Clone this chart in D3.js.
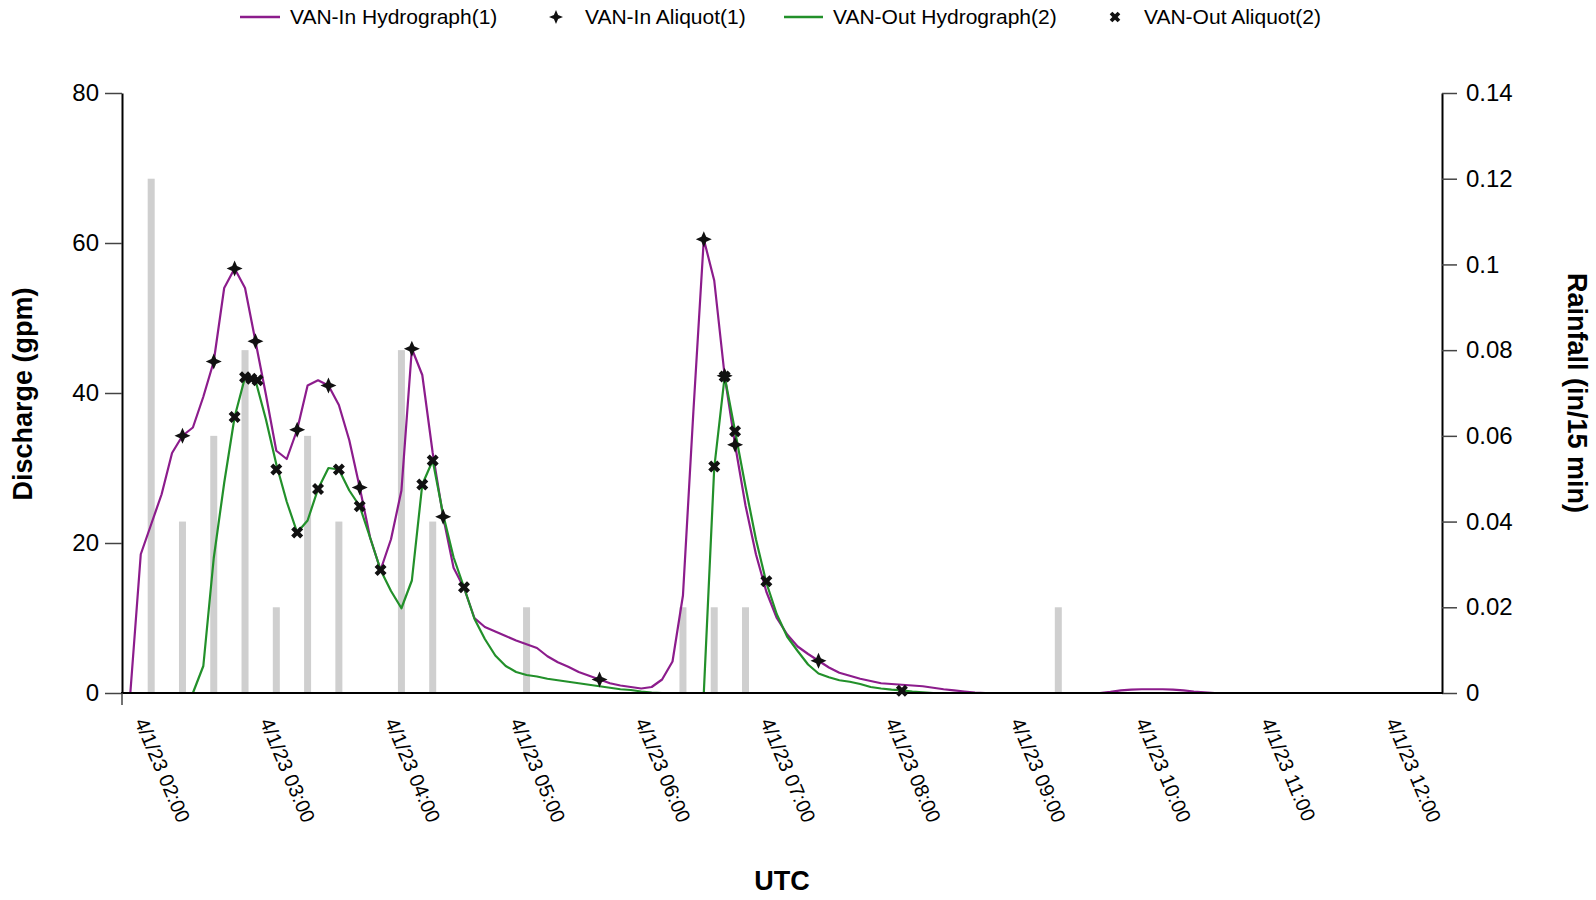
<!DOCTYPE html>
<html>
<head>
<meta charset="utf-8">
<script src="https://cdn.jsdelivr.net/npm/d3@7"></script>
<style>
    body { margin: 0; background: #fff; }
    svg { display: block; font-family: "Liberation Sans", Arial, sans-serif; }
</style>
</head>
<body>
<div id="chart"></div>
<script>
// rainfall per 15 min (in)
const rainTimes = ["02:05", "02:20", "02:35", "02:50", "03:05", "03:20", "03:35", "04:05", "04:20", "05:05", "06:20", "06:35", "06:50", "09:20"];
const rainValues = [0.12, 0.04, 0.06, 0.08, 0.02, 0.06, 0.04, 0.08, 0.04, 0.02, 0.02, 0.02, 0.02, 0.02];

// VAN-In hydrograph (gpm)
const vanInHydrograph = [
    ["01:55", 0], ["02:00", 18.5], ["02:05", 22.5], ["02:10", 26.5], ["02:15", 32], ["02:20", 34.3],
    ["02:25", 35.4], ["02:30", 39.5], ["02:35", 44.2], ["02:40", 54], ["02:45", 56.6], ["02:50", 54],
    ["02:55", 46.9], ["03:00", 39.8], ["03:05", 32.3], ["03:10", 31.2], ["03:15", 35.1], ["03:20", 41],
    ["03:25", 41.7], ["03:30", 41], ["03:35", 38.4], ["03:40", 33.7], ["03:45", 27.4], ["03:50", 20.7],
    ["03:55", 16.4], ["04:00", 20.5], ["04:05", 27], ["04:10", 45.9], ["04:15", 42.4], ["04:20", 32],
    ["04:25", 23.5], ["04:30", 16.7], ["04:35", 14], ["04:40", 10], ["04:45", 8.8], ["04:50", 8.2],
    ["04:55", 7.6], ["05:00", 7], ["05:05", 6.5], ["05:10", 6], ["05:15", 4.9], ["05:20", 4.1],
    ["05:25", 3.5], ["05:30", 2.8], ["05:35", 2.3], ["05:40", 1.8], ["05:45", 1.3], ["05:50", 1.0],
    ["05:55", 0.8], ["06:00", 0.6], ["06:05", 0.8], ["06:10", 1.8], ["06:15", 4.2], ["06:20", 13],
    ["06:25", 37.5], ["06:30", 60.5], ["06:35", 55], ["06:40", 42.3], ["06:45", 33.1], ["06:50", 25],
    ["06:55", 18.5], ["07:00", 13.5], ["07:05", 10], ["07:10", 7.8], ["07:15", 6.2], ["07:20", 5.2],
    ["07:25", 4.3], ["07:30", 3.4], ["07:35", 2.7], ["07:40", 2.3], ["07:45", 1.9], ["07:50", 1.6],
    ["07:55", 1.3], ["08:00", 1.2], ["08:05", 1.1], ["08:10", 1.0], ["08:15", 0.9], ["08:20", 0.7],
    ["08:25", 0.5], ["08:30", 0.35], ["08:35", 0.2], ["08:40", 0.05], ["08:45", 0], ["09:40", 0],
    ["09:45", 0.15], ["09:50", 0.35], ["09:55", 0.45], ["10:00", 0.5], ["10:05", 0.5], ["10:10", 0.5],
    ["10:15", 0.45], ["10:20", 0.35], ["10:25", 0.2], ["10:30", 0.1], ["10:35", 0], ["12:20", 0]
];

// VAN-Out hydrograph (gpm)
const vanOutHydrograph = [
    ["02:25", 0], ["02:30", 3.6], ["02:35", 18], ["02:40", 28], ["02:45", 36.8], ["02:50", 42.1],
    ["02:55", 41.7], ["03:00", 36.5], ["03:05", 30.5], ["03:10", 25.5], ["03:15", 21.4], ["03:20", 23],
    ["03:25", 27.2], ["03:30", 30], ["03:35", 29.8], ["03:40", 27], ["03:45", 24.9], ["03:50", 20.7],
    ["03:55", 16.4], ["04:00", 13.6], ["04:05", 11.3], ["04:10", 15], ["04:15", 27.8], ["04:20", 31],
    ["04:25", 23.8], ["04:30", 18.1], ["04:35", 14.1], ["04:40", 9.9], ["04:45", 7.2], ["04:50", 5],
    ["04:55", 3.6], ["05:00", 2.8], ["05:05", 2.4], ["05:10", 2.2], ["05:15", 1.9], ["05:20", 1.7],
    ["05:25", 1.5], ["05:30", 1.3], ["05:35", 1.1], ["05:40", 0.9], ["05:45", 0.7], ["05:50", 0.5],
    ["05:55", 0.4], ["06:00", 0.2], ["06:05", 0.05], ["06:10", 0], ["06:30", 0], ["06:35", 30],
    ["06:40", 42.2], ["06:45", 34.9], ["06:50", 27.5], ["06:55", 20.5], ["07:00", 14.7], ["07:05", 10.5],
    ["07:10", 7.5], ["07:15", 5.6], ["07:20", 3.8], ["07:25", 2.6], ["07:30", 2.1], ["07:35", 1.7],
    ["07:40", 1.5], ["07:45", 1.2], ["07:50", 0.8], ["07:55", 0.6], ["08:00", 0.45], ["08:05", 0.35],
    ["08:10", 0.2], ["08:15", 0.1], ["08:20", 0], ["12:20", 0]
];

// aliquot samples
const vanInAliquot = [
    ["02:20", 34.3], ["02:35", 44.2], ["02:45", 56.6], ["02:55", 46.9], ["03:15", 35.1], ["03:30", 41],
    ["03:45", 27.4], ["04:10", 45.9], ["04:25", 23.5], ["05:40", 1.8], ["06:30", 60.5], ["06:40", 42.3],
    ["06:45", 33.1], ["07:25", 4.3]
];
const vanOutAliquot = [
    ["02:45", 36.8], ["02:50", 42.1], ["02:53", 41.9], ["02:56", 41.7], ["03:05", 29.8], ["03:15", 21.4],
    ["03:25", 27.2], ["03:35", 29.8], ["03:45", 24.9], ["03:55", 16.4], ["04:15", 27.8], ["04:20", 31],
    ["04:35", 14.1], ["06:35", 30.2], ["06:40", 42.2], ["06:45", 34.9], ["07:00", 14.9], ["08:05", 0.3]
];

const dischargeTicks = [0, 20, 40, 60, 80];
const rainTicks = [0, 0.02, 0.04, 0.06, 0.08, 0.1, 0.12, 0.14];
const legendLabels = ["VAN-In Hydrograph(1)", "VAN-In Aliquot(1)", "VAN-Out Hydrograph(2)", "VAN-Out Aliquot(2)"];

const width = 1596, height = 900;
const purple = "#8c1c8c", green = "#22902a";

const parseTime = s => new Date(`2023-04-01T${s}:00Z`);
const fmtTick = d3.utcFormat("%-m/%-d/%y %H:%M");

const x = d3.scaleUtc()
    .domain([parseTime("01:51"), parseTime("12:24")])
    .range([122, 1442]);
const y = d3.scaleLinear().domain([0, 80]).range([693, 93]);
const yRain = d3.scaleLinear().domain([0, 0.14]).range([693, 93]);

// 4 point star for the In aliquots
function starPath(r) {
    const a = r * 0.3;
    return `M0,${-r}L${a},${-a}L${r},0L${a},${a}L0,${r}L${-a},${a}L${-r},0L${-a},${-a}Z`;
}
const crossPath = size => d3.symbol(d3.symbolCross, size)();

const svg = d3.select("#chart")
    .append("svg")
    .attr("width", width)
    .attr("height", height);

// rainfall bars
svg.append("g")
    .attr("fill", "#cfcfcf")
    .selectAll("rect")
    .data(rainTimes.map((t, i) => ({t: parseTime(t), v: rainValues[i]})))
    .join("rect")
    .attr("x", d => x(d.t) - 3.5)
    .attr("width", 7)
    .attr("y", d => yRain(d.v))
    .attr("height", d => yRain(0) - yRain(d.v));

const line = d3.line()
    .x(d => x(parseTime(d[0])))
    .y(d => y(d[1]));

svg.append("path")
    .datum(vanInHydrograph)
    .attr("fill", "none")
    .attr("stroke", purple)
    .attr("stroke-width", 2.2)
    .attr("stroke-linejoin", "round")
    .attr("d", line);

svg.append("path")
    .datum(vanOutHydrograph)
    .attr("fill", "none")
    .attr("stroke", green)
    .attr("stroke-width", 2.2)
    .attr("stroke-linejoin", "round")
    .attr("d", line);

// axes
const leftAxis = svg.append("g")
    .attr("transform", "translate(122,0)")
    .call(d3.axisLeft(y).tickValues(dischargeTicks).tickSize(17).tickSizeOuter(0).tickPadding(6));

const rightAxis = svg.append("g")
    .attr("transform", "translate(1442,0)")
    .call(d3.axisRight(yRain).tickValues(rainTicks).tickSize(15).tickSizeOuter(0).tickPadding(9)
        .tickFormat(d => d === 0 ? "0" : d3.format(".2~f")(d)));

[leftAxis, rightAxis].forEach(g => {
    g.select(".domain").attr("stroke", "#000").attr("stroke-width", 2);
    g.selectAll(".tick line").attr("stroke", "#444").attr("stroke-width", 1.5);
    g.selectAll(".tick text").attr("fill", "#000").style("font-size", "24px");
});

// baseline and the little stub below the left axis
svg.append("line")
    .attr("x1", 121).attr("x2", 1443)
    .attr("y1", y(0)).attr("y2", y(0))
    .attr("stroke", "#000").attr("stroke-width", 2.2);
svg.append("line")
    .attr("x1", 122).attr("x2", 122)
    .attr("y1", y(0)).attr("y2", 705)
    .attr("stroke", "#444").attr("stroke-width", 1.5);

// rotated time labels
svg.append("g")
    .selectAll("text")
    .data(d3.utcHour.range(parseTime("02:00"), parseTime("12:01")))
    .join("text")
    .attr("transform", d => `translate(${x(d)},719) rotate(67)`)
    .attr("dy", "0.35em")
    .style("font-size", "20px")
    .text(d => fmtTick(d));

// aliquot markers
svg.append("g")
    .selectAll("path")
    .data(vanInAliquot)
    .join("path")
    .attr("transform", d => `translate(${x(parseTime(d[0]))},${y(d[1])})`)
    .attr("d", starPath(8))
    .attr("fill", "#111");

svg.append("g")
    .selectAll("path")
    .data(vanOutAliquot)
    .join("path")
    .attr("transform", d => `translate(${x(parseTime(d[0]))},${y(d[1])}) rotate(45)`)
    .attr("d", crossPath(90))
    .attr("fill", "#111");

// axis titles
svg.append("text")
    .attr("transform", "translate(23,394) rotate(-90)")
    .attr("text-anchor", "middle")
    .attr("dy", "0.35em")
    .style("font-size", "27px")
    .style("font-weight", "bold")
    .text("Discharge (gpm)");

svg.append("text")
    .attr("transform", "translate(1577,393) rotate(90)")
    .attr("text-anchor", "middle")
    .attr("dy", "0.35em")
    .style("font-size", "27px")
    .style("font-weight", "bold")
    .text("Rainfall (in/15 min)");

svg.append("text")
    .attr("x", 782)
    .attr("y", 881)
    .attr("text-anchor", "middle")
    .attr("dy", "0.35em")
    .style("font-size", "27px")
    .style("font-weight", "bold")
    .text("UTC");

// legend
const legend = svg.append("g").attr("transform", "translate(0,17)");
const legendX = [240, 556, 784, 1115];

legend.append("line").attr("x1", legendX[0]).attr("x2", legendX[0] + 40)
    .attr("stroke", purple).attr("stroke-width", 2.5);
legend.append("path").attr("transform", `translate(${legendX[1]},0)`)
    .attr("d", starPath(7)).attr("fill", "#111");
legend.append("line").attr("x1", legendX[2]).attr("x2", legendX[2] + 39)
    .attr("stroke", green).attr("stroke-width", 2.5);
legend.append("path").attr("transform", `translate(${legendX[3]},0) rotate(45)`)
    .attr("d", crossPath(70)).attr("fill", "#111");

const textX = [290, 585, 833, 1144];
legend.selectAll("text")
    .data(legendLabels)
    .join("text")
    .attr("x", (d, i) => textX[i])
    .attr("dy", "0.35em")
    .style("font-size", "21px")
    .text(d => d);
</script>
</body>
</html>
